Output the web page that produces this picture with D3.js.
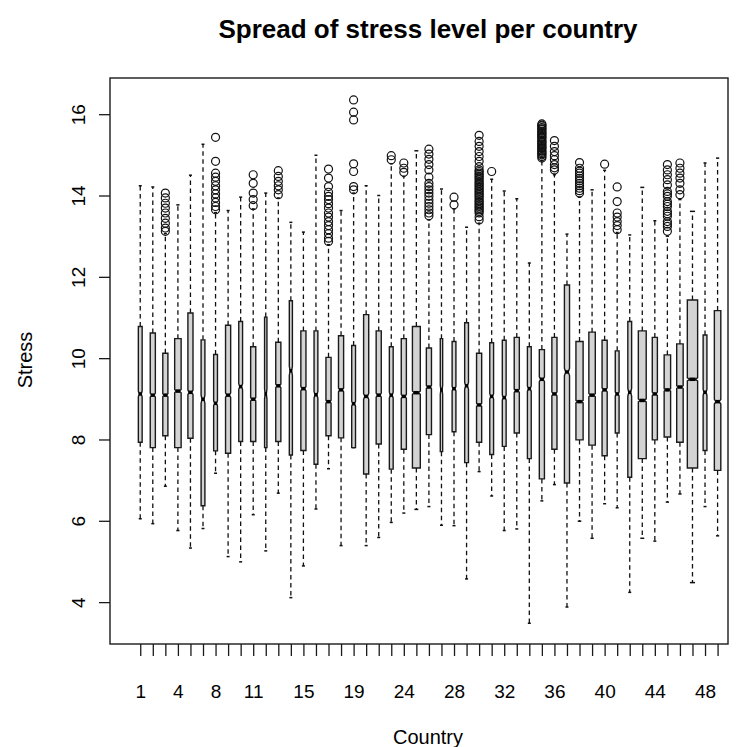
<!DOCTYPE html>
<html>
<head>
<meta charset="utf-8">
<script src="https://cdn.jsdelivr.net/npm/d3@7"></script>
<style>
  body { margin: 0; background: #fff; }
  text { font-family: "Liberation Sans", Arial, sans-serif; fill: #000; }
</style>
</head>
<body>
<svg id="svgmain" width="745" height="747"></svg>
<script>
// country codes, one box per country (two codes have no data)
var countries = [1,2,3,4,5,6,8,9,10,11,12,13,14,15,16,17,18,19,20,21,23,24,25,26,27,28,
                 29,30,31,32,33,34,35,36,37,38,39,40,41,42,43,44,45,46,47,48,49]
// labels R kept on the x axis (the rest were dropped for overlap)
var shownLabels = [1,4,8,11,15,19,24,28,32,36,40,44,48]
var yTicks = [4,6,8,10,12,14,16]

// five-number summaries per country
var lowWhisker = [6.05,5.93,6.85,5.76,5.33,5.81,7.17,5.12,4.99,6.15,5.26,6.68,4.11,4.89,6.29,
                  7.28,5.39,7.80,5.39,5.59,5.96,6.19,6.28,6.35,5.89,5.88,4.57,7.21,6.61,5.76,
                  5.80,3.48,6.49,6.89,3.88,5.99,5.57,6.42,6.32,4.24,5.57,5.50,6.46,6.66,4.48,
                  6.35,5.63]
var q1 = [7.93,7.80,8.09,7.80,8.03,6.37,7.72,7.66,7.95,7.95,7.80,7.95,7.62,7.73,7.39,
          8.09,8.04,7.80,7.15,7.89,7.27,7.76,7.30,8.12,7.70,8.19,7.43,7.93,7.63,7.83,
          8.16,7.53,7.03,7.76,6.93,7.99,7.86,7.60,8.16,7.07,7.53,7.99,8.06,7.93,7.30,
          7.73,7.24]
var median = [9.12,9.09,9.09,9.19,9.16,8.99,8.89,9.09,9.30,8.99,9.12,9.32,9.69,9.25,9.10,
              8.93,9.22,8.88,9.06,9.09,9.09,9.06,9.15,9.29,9.22,9.25,9.32,8.85,9.06,9.03,
              9.20,9.25,9.48,9.12,9.66,8.93,9.09,9.22,9.12,9.16,8.96,9.12,9.22,9.29,9.48,
              9.16,8.93]
var q3 = [10.78,10.62,10.12,10.48,11.11,10.45,10.09,10.81,10.90,10.28,11.01,10.39,11.41,10.67,10.67,
          10.02,10.55,10.31,11.07,10.67,10.28,10.48,10.78,10.25,10.48,10.41,10.87,10.12,10.38,10.44,
          10.51,10.28,10.21,10.51,11.80,10.41,10.64,10.44,10.18,10.90,10.67,10.51,10.08,10.35,11.43,
          10.57,11.17]
var highWhisker = [14.24,14.21,13.06,13.77,14.50,15.26,13.58,13.63,13.96,13.67,14.06,13.94,13.34,13.10,14.99,
                   12.79,13.63,14.06,14.24,14.00,14.78,14.47,15.10,13.40,14.16,13.67,13.22,13.32,14.40,14.11,
                   13.92,12.34,14.86,14.51,13.05,13.96,14.14,14.62,13.09,13.03,14.20,13.38,13.00,13.90,13.61,
                   14.80,14.92]
// respondents per country (drives box width and notch size)
var counts = [4100,7400,7400,11800,7400,4100,4100,7400,4100,7400,1600,7400,2700,7400,4100,
              7400,7400,4100,7400,7400,4100,7400,17600,7400,1600,4100,4100,7400,4100,4100,
              7400,4100,7400,7400,7400,14600,11800,7400,4100,4100,17600,7400,11800,11800,30000,
              4100,11800]
var outliers = [
  [], [],
  [14.06,13.94,13.81,13.69,13.57,13.44,13.32,13.20,13.12],
  [], [], [],
  [15.43,14.84,14.55,14.45,14.35,14.24,14.14,14.04,13.94,13.83,13.73,13.65],
  [], [],
  [14.51,14.30,14.06,13.90,13.75],
  [],
  [14.61,14.47,14.35,14.24,14.14,14.02],
  [], [], [],
  [14.65,14.43,14.22,14.08,13.98,13.90,13.80,13.69,13.57,13.47,13.36,13.26,13.16,13.06,12.95,12.87],
  [],
  [16.35,16.05,15.86,14.78,14.59,14.22,14.14],
  [], [],
  [14.98,14.88],
  [14.80,14.67,14.57],
  [],
  [15.14,15.02,14.89,14.76,14.63,14.45,14.30,14.22,14.14,14.06,13.98,13.89,13.81,13.73,13.65,13.57,13.50],
  [],
  [13.96,13.77],
  [],
  [15.48,15.33,15.21,15.08,14.96,14.84,14.71,14.63,14.59,14.55,14.51,14.47,14.43,14.39,14.34,14.30,
   14.26,14.22,14.18,14.14,14.10,14.06,14.02,13.98,13.94,13.89,13.85,13.81,13.77,13.73,13.69,13.65,
   13.61,13.57,13.48,13.40],
  [14.59],
  [], [], [],
  [15.76,15.73,15.71,15.67,15.64,15.62,15.58,15.55,15.52,15.50,15.46,15.43,15.41,15.36,15.33,15.31,
   15.27,15.24,15.21,15.18,15.16,15.12,15.09,15.06,15.03,15.00,14.96,14.92],
  [15.35,15.21,15.08,14.98,14.88,14.76,14.68,14.63],
  [],
  [14.81,14.67,14.60,14.55,14.48,14.42,14.36,14.30,14.24,14.18,14.12,14.06],
  [],
  [14.77],
  [14.21,13.85,13.57,13.47,13.36,13.26,13.16],
  [], [], [],
  [14.76,14.63,14.51,14.39,14.26,14.10,14.04,13.98,13.85,13.79,13.73,13.61,13.55,13.49,13.36,13.30,13.24,13.12],
  [14.80,14.67,14.55,14.43,14.30,14.14,14.02],
  [], [], []
]

function drawChart() {
    var svg = d3.select("#svgmain")
    var plotLeft = 110, plotRight = 728, plotTop = 78, plotBottom = 644

    var x = d3.scaleLinear().domain([-1.41, 47.83]).range([plotLeft, plotRight])
    var y = d3.scaleLinear().domain([2.97, 16.89]).range([plotBottom, plotTop])
    var step = x(2) - x(1)
    var maxCount = d3.max(counts)
    var boxW = d3.scaleSqrt().domain([0, maxCount]).range([0, 0.82 * step])

    var plot = svg.append("g")

    countries.forEach(function(c, i) {
        var cx = x(i + 1)
        var hw = boxW(counts[i]) / 2
        var notch = 1.58 * (q3[i] - q1[i]) / Math.sqrt(counts[i])
        var g = plot.append("g")

        // whiskers (dashed) and staples
        g.append("line").attr("x1", cx).attr("x2", cx)
            .attr("y1", y(q1[i])).attr("y2", y(lowWhisker[i]))
            .attr("stroke", "#111").attr("stroke-width", 1.3).attr("stroke-dasharray", "4.5,3.5")
        g.append("line").attr("x1", cx).attr("x2", cx)
            .attr("y1", y(q3[i])).attr("y2", y(highWhisker[i]))
            .attr("stroke", "#111").attr("stroke-width", 1.3).attr("stroke-dasharray", "4.5,3.5")
        ;[lowWhisker[i], highWhisker[i]].forEach(function(v) {
            g.append("line").attr("x1", cx - Math.max(hw / 2, 1.5)).attr("x2", cx + Math.max(hw / 2, 1.5))
                .attr("y1", y(v)).attr("y2", y(v)).attr("stroke", "#111").attr("stroke-width", 1.5)
        })

        // notched box like R's bxp
        var fx = [-1, 1, 1, 0.5, 1, 1, -1, -1, -0.5, -1]
        var fy = [q1[i], q1[i], median[i] - notch, median[i], median[i] + notch,
                  q3[i], q3[i], median[i] + notch, median[i], median[i] - notch]
        var pts = fx.map(function(f, k) { return [cx + f * hw, y(fy[k])] })
        g.append("path").attr("d", d3.line()(pts) + "Z")
            .attr("fill", "#d3d3d3").attr("stroke", "#1a1a1a").attr("stroke-width", 1.4)

        g.append("line").attr("x1", cx - hw / 2 - 0.5).attr("x2", cx + hw / 2 + 0.5)
            .attr("y1", y(median[i])).attr("y2", y(median[i]))
            .attr("stroke", "#000").attr("stroke-width", 3.5)

        g.selectAll("circle").data(outliers[i]).enter().append("circle")
            .attr("cx", cx).attr("cy", function(d) { return y(d) })
            .attr("r", 4).attr("fill", "none").attr("stroke", "#111").attr("stroke-width", 1.2)
    })

    // frame
    svg.append("rect").attr("x", plotLeft).attr("y", plotTop)
        .attr("width", plotRight - plotLeft).attr("height", plotBottom - plotTop)
        .attr("fill", "none").attr("stroke", "#1a1a1a").attr("stroke-width", 1.4)

    // y axis
    var yAxis = svg.append("g").attr("transform", "translate(" + plotLeft + ",0)")
        .call(d3.axisLeft(y).tickValues(yTicks).tickSize(11).tickFormat(d3.format("d")))
    yAxis.select(".domain").remove()
    yAxis.selectAll(".tick line").attr("stroke", "#1a1a1a").attr("stroke-width", 1.3)
    yAxis.selectAll(".tick text")
        .attr("transform", "rotate(-90)").attr("x", 0).attr("y", -25).attr("dy", null)
        .attr("text-anchor", "middle").style("font-size", "19px")

    // x axis
    var xAxis = svg.append("g").attr("transform", "translate(0," + plotBottom + ")")
        .call(d3.axisBottom(x).tickValues(d3.range(1, countries.length + 1)).tickSize(12)
            .tickFormat(function(d) {
                var c = countries[d - 1]
                return shownLabels.indexOf(c) >= 0 ? c : ""
            }))
    xAxis.select(".domain").remove()
    xAxis.selectAll(".tick line").attr("stroke", "#1a1a1a").attr("stroke-width", 1.3)
    xAxis.selectAll(".tick text").attr("y", 54).attr("dy", null).style("font-size", "19px")

    // titles
    svg.append("text").attr("x", 428).attr("y", 38).attr("text-anchor", "middle")
        .style("font-size", "26px").style("font-weight", "bold")
        .text("Spread of stress level per country")
    svg.append("text").attr("x", 428).attr("y", 744).attr("text-anchor", "middle")
        .style("font-size", "20px").text("Country")
    svg.append("text").attr("transform", "translate(32,360) rotate(-90)")
        .attr("text-anchor", "middle").style("font-size", "20px").text("Stress")
}

drawChart()
</script>
</body>
</html>
